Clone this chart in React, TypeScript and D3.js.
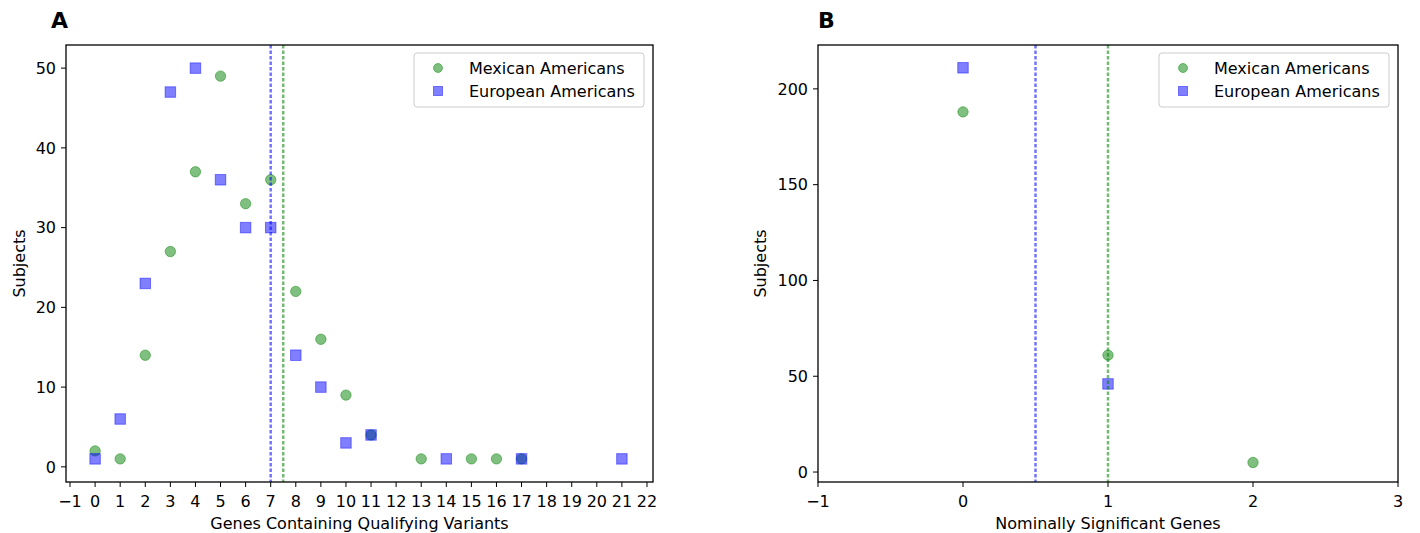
import React from "react";
import * as d3 from "d3";

// Panel A: genes containing qualifying variants
const aMexX = [0, 1, 2, 3, 4, 5, 6, 7, 8, 9, 10, 11, 13, 15, 16, 17];
const aMexY = [2, 1, 14, 27, 37, 49, 33, 36, 22, 16, 9, 4, 1, 1, 1, 1];
const aEurX = [0, 1, 2, 3, 4, 5, 6, 7, 8, 9, 10, 11, 14, 17, 21];
const aEurY = [1, 6, 23, 47, 50, 36, 30, 30, 14, 10, 3, 4, 1, 1, 1];
const aMeans = { mex: 7.5, eur: 7 };
const aXTicks = d3.range(-1, 23);
const aYTicks = [0, 10, 20, 30, 40, 50];

// Panel B: nominally significant genes
const bMexX = [0, 1, 2];
const bMexY = [188, 61, 5];
const bEurX = [0, 1];
const bEurY = [211, 46];
const bMeans = { mex: 1, eur: 0.5 };
const bXTicks = [-1, 0, 1, 2, 3];
const bYTicks = [0, 50, 100, 150, 200];

const legendLabels = ["Mexican Americans", "European Americans"];

const GREEN = "#008000";
const BLUE = "#0000ff";
const FONT = "DejaVu Sans, sans-serif";

type PanelProps = {
  letter: string;
  left: number;
  right: number;
  xDomain: [number, number];
  yDomain: [number, number];
  xTicks: number[];
  yTicks: number[];
  mexX: number[];
  mexY: number[];
  eurX: number[];
  eurY: number[];
  means: { mex: number; eur: number };
  xLabel: string;
  yLabelX: number;
  letterX: number;
};

const top = 45;
const bottom = 482;

function Panel(p: PanelProps) {
  const x = d3.scaleLinear().domain(p.xDomain).range([p.left, p.right]);
  const y = d3.scaleLinear().domain(p.yDomain).range([bottom, top]);
  const sq = 10.5;
  const lsq = 9;
  const lw = 230;
  const lx = p.right - 9 - lw;
  const ly = top + 8;
  return (
    <g fontFamily={FONT}>
      <text x={p.letterX} y={28} fontSize={22} fontWeight="bold">{p.letter}</text>
      {p.mexX.map((v, i) => (
        <circle key={"m" + i} cx={x(v)} cy={y(p.mexY[i])} r={5.2}
          fill={GREEN} fillOpacity={0.5} stroke={GREEN} strokeOpacity={0.45} strokeWidth={1} />
      ))}
      {p.eurX.map((v, i) => (
        <rect key={"e" + i} x={x(v) - sq / 2} y={y(p.eurY[i]) - sq / 2} width={sq} height={sq}
          fill={BLUE} fillOpacity={0.5} stroke={BLUE} strokeOpacity={0.45} strokeWidth={1} />
      ))}
      <line x1={x(p.means.eur)} x2={x(p.means.eur)} y1={top} y2={bottom}
        stroke={BLUE} strokeOpacity={0.55} strokeWidth={2.5} strokeDasharray="3.5,2" />
      <line x1={x(p.means.mex)} x2={x(p.means.mex)} y1={top} y2={bottom}
        stroke={GREEN} strokeOpacity={0.55} strokeWidth={2.5} strokeDasharray="3.5,2" />
      <rect x={p.left} y={top} width={p.right - p.left} height={bottom - top}
        fill="none" stroke="#000" strokeWidth={1.3} />
      {p.xTicks.map((t) => (
        <g key={"xt" + t} transform={`translate(${x(t)},${bottom})`}>
          <line y2={5} stroke="#000" />
          <text y={25} textAnchor="middle" fontSize={16}>{t < 0 ? "\u2212" + Math.abs(t) : t}</text>
        </g>
      ))}
      {p.yTicks.map((t) => (
        <g key={"yt" + t} transform={`translate(${p.left},${y(t)})`}>
          <line x2={-5} stroke="#000" />
          <text x={-10} dy="0.36em" textAnchor="end" fontSize={16}>{t}</text>
        </g>
      ))}
      <text x={(p.left + p.right) / 2} y={529} textAnchor="middle" fontSize={16}>{p.xLabel}</text>
      <text transform={`translate(${p.yLabelX},${(top + bottom) / 2}) rotate(-90)`}
        textAnchor="middle" fontSize={16}>Subjects</text>
      <rect x={lx} y={ly} width={lw} height={54} rx={3} fill="#fff" fillOpacity={0.8}
        stroke="#cccccc" strokeWidth={1} />
      <circle cx={lx + 24} cy={ly + 15} r={4.5} fill={GREEN} fillOpacity={0.5}
        stroke={GREEN} strokeOpacity={0.45} />
      <rect x={lx + 24 - lsq / 2} y={ly + 38 - lsq / 2} width={lsq} height={lsq}
        fill={BLUE} fillOpacity={0.5} stroke={BLUE} strokeOpacity={0.45} />
      {legendLabels.map((l, i) => (
        <text key={l} x={lx + 55} y={ly + 15 + i * 23} dy="0.36em" fontSize={16}>{l}</text>
      ))}
    </g>
  );
}

export default function App() {
  return (
    <svg width={1420} height={533} style={{ position: "absolute", left: 0, top: 0, background: "#fff" }}>
      <rect width={1420} height={533} fill="#fff" />
      <Panel letter="A" left={66} right={653} xDomain={[-1.16, 22.24]} yDomain={[-1.9, 52.9]}
        xTicks={aXTicks} yTicks={aYTicks} mexX={aMexX} mexY={aMexY} eurX={aEurX} eurY={aEurY}
        means={aMeans} xLabel="Genes Containing Qualifying Variants" yLabelX={25} letterX={51} />
      <Panel letter="B" left={818} right={1398} xDomain={[-1, 3]} yDomain={[-5.2, 222.9]}
        xTicks={bXTicks} yTicks={bYTicks} mexX={bMexX} mexY={bMexY} eurX={bEurX} eurY={bEurY}
        means={bMeans} xLabel="Nominally Significant Genes" yLabelX={766} letterX={818} />
    </svg>
  );
}
